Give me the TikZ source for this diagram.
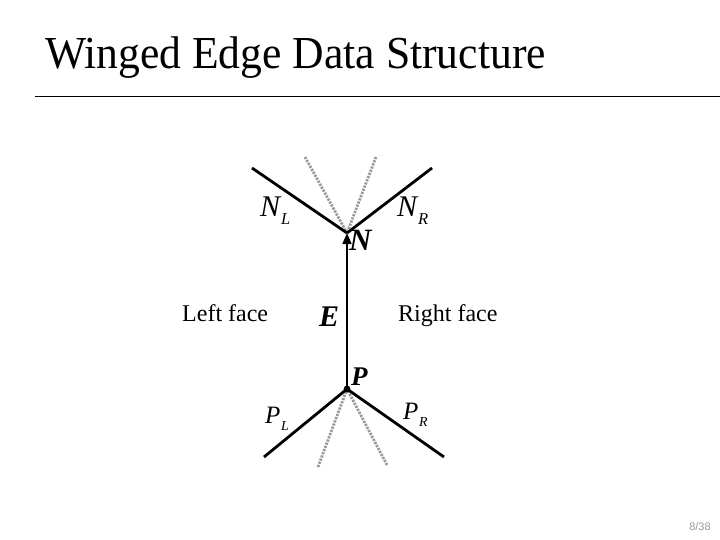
\documentclass[tikz,border=0pt]{standalone}
\usepackage{fontspec}
\setmainfont{Liberation Serif}
\newfontfamily\slidesans{Liberation Sans}
\usetikzlibrary{positioning,arrows.meta}

\newcommand{\wlab}[2]{{\itshape #1}\kern0.03em\raisebox{-0.28em}{\scalebox{0.55}{\itshape #2}}}

\begin{document}
\begin{tikzpicture}[
		x=1pt,y=-1pt,
		>=Latex,
		wing/.style={line width=2.8pt},
		ghost/.style={line width=2.8pt,black!40,dash pattern=on 2.2pt off 1.2pt},
		lbl/.style={anchor=base west,inner sep=0pt,font=\fontsize{30}{30}\selectfont},
		smlbl/.style={anchor=base west,inner sep=0pt,font=\fontsize{25}{25}\selectfont},
		vlbl/.style={anchor=base west,inner sep=0pt,font=\fontsize{30}{30}\selectfont\bfseries\itshape},
		face/.style={anchor=base west,inner sep=0pt,font=\fontsize{24}{24}\selectfont}
		]
		\useasboundingbox (0,0) rectangle (720,540);
		
		%--------------------------------------------------
		% Title
		%--------------------------------------------------
		
		\node (title) [anchor=base west,inner sep=0pt,font=\fontsize{43.6}{43.6}\selectfont]
		at (45,69) {\scalebox{1}[1.05]{Winged Edge Data Structure}};
		
		\coordinate (ruleL) at (35,96);
		\coordinate (ruleR) at (720,96);
		\draw[line width=0.9pt] (ruleL) -- (ruleR);
		
		%--------------------------------------------------
		% Vertices and wing ends
		%--------------------------------------------------
		
		\coordinate (N) at (347,233);
		\coordinate (P) at (347,389);
		
		\coordinate (nl) at (252,168);
		\coordinate (nr) at (432,168);
		\coordinate (pl) at (264,457);
		\coordinate (pr) at (444,457);
		
		\coordinate (gnl) at (305,157);
		\coordinate (gnr) at (376,157);
		\coordinate (gpl) at (318,467);
		\coordinate (gpr) at (387,465);
		
		%--------------------------------------------------
		% Faded edges
		%--------------------------------------------------
		
		\draw[ghost] (gnl) -- (N);
		\draw[ghost] (gnr) -- (N);
		\draw[ghost] (gpl) -- (P);
		\draw[ghost] (gpr) -- (P);
		
		%--------------------------------------------------
		% Wings and edge
		%--------------------------------------------------
		
		\draw[wing] (nl) -- (N);
		\draw[wing] (nr) -- (N);
		\draw[wing] (pl) -- (P);
		\draw[wing] (pr) -- (P);
		
		\draw[line width=1.6pt,-{Triangle[length=11pt,width=9pt]}]
		(P) -- (N);
		
		\fill (P) circle (3.4);
		
		%--------------------------------------------------
		% Labels
		%--------------------------------------------------
		
		\node (labNL) [lbl] at (260,216) {\wlab{N}{L}};
		\node (labNR) [lbl] at (397,216) {\wlab{N}{R}};
		\node (labN) [vlbl,font=\fontsize{31}{31}\selectfont\bfseries\itshape]
		at (349,250) {N};
		\node (labE) [vlbl] at (319,326) {E};
		\node (labP) [vlbl,font=\fontsize{27}{27}\selectfont\bfseries\itshape]
		at (351,385) {P};
		\node (labPL) [smlbl] at (265,423) {\wlab{P}{L}};
		\node (labPR) [smlbl] at (403,419) {\wlab{P}{R}};
		
		\node (left) [face] at (182,321) {Left face};
		\node (right) [face] at (398,321) {Right face};
		
		\node (page) [inner sep=0pt,font=\slidesans\fontsize{11}{11}\selectfont,
		text=gray!80] at (700,527) {8/38};
		
	\end{tikzpicture}
\end{document}
